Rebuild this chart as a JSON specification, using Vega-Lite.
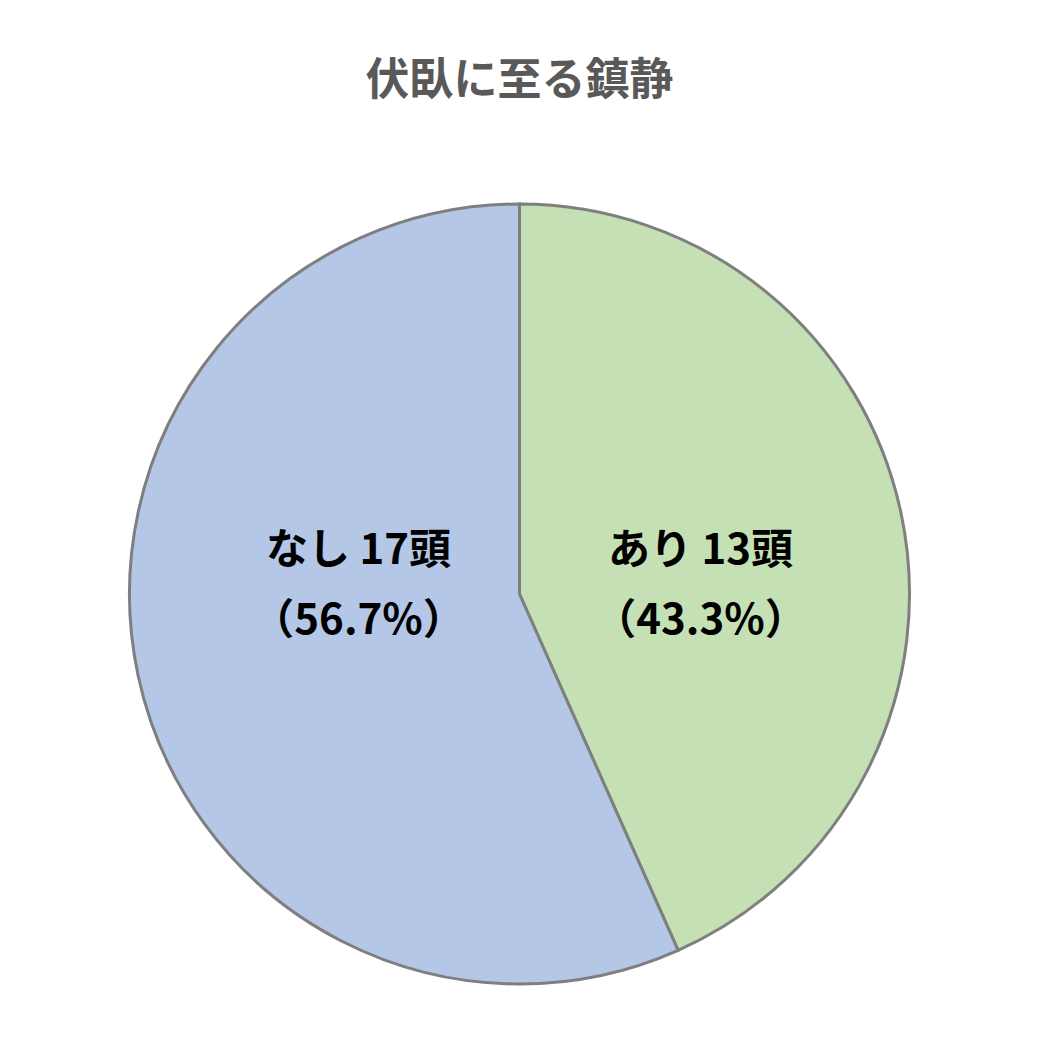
{
  "$schema": "https://vega.github.io/schema/vega-lite/v6.json",
  "width": 1039,
  "height": 1039,
  "autosize": {"type": "fit", "contains": "padding"},
  "background": "white",
  "padding": {"top": 60, "bottom": 0, "left": 0, "right": 0},
  "config": {"view": {"stroke": null}, "font": "Noto Sans CJK JP"},
  "title": {
    "text": "伏臥に至る鎮静",
    "fontSize": 44,
    "fontWeight": "bold",
    "color": "#595959",
    "font": "Noto Sans CJK JP",
    "anchor": "middle",
    "offset": 45
  },
  "data": {
    "values": [
      {"category": "あり", "count": 13, "label": "あり 13頭\n（43.3%）", "order": 1},
      {"category": "なし", "count": 17, "label": "なし 17頭\n（56.7%）", "order": 2}
    ]
  },
  "encoding": {
    "theta": {"field": "count", "type": "quantitative", "stack": true},
    "order": {"field": "order", "type": "quantitative"},
    "color": {
      "field": "category",
      "type": "nominal",
      "scale": {"domain": ["あり", "なし"], "range": ["#c5e0b4", "#b4c7e7"]},
      "legend": null
    }
  },
  "layer": [
    {
      "mark": {"type": "arc", "outerRadius": 390, "stroke": "#7f7f7f", "strokeWidth": 3}
    },
    {
      "mark": {
        "type": "text",
        "radius": 185,
        "dy": -5,
        "fontSize": 42,
        "fontWeight": "bold",
        "lineBreak": "\n",
        "lineHeight": 70,
        "font": "Noto Sans CJK JP"
      },
      "encoding": {
        "text": {
          "condition": {"test": "datum.category == 'あり'", "field": "label"},
          "value": ""
        },
        "color": {"value": "black"}
      }
    },
    {
      "mark": {
        "type": "text",
        "radius": 185,
        "dx": 20,
        "dy": -81,
        "fontSize": 42,
        "fontWeight": "bold",
        "lineBreak": "\n",
        "lineHeight": 70,
        "font": "Noto Sans CJK JP"
      },
      "encoding": {
        "text": {
          "condition": {"test": "datum.category == 'なし'", "field": "label"},
          "value": ""
        },
        "color": {"value": "black"}
      }
    }
  ]
}
